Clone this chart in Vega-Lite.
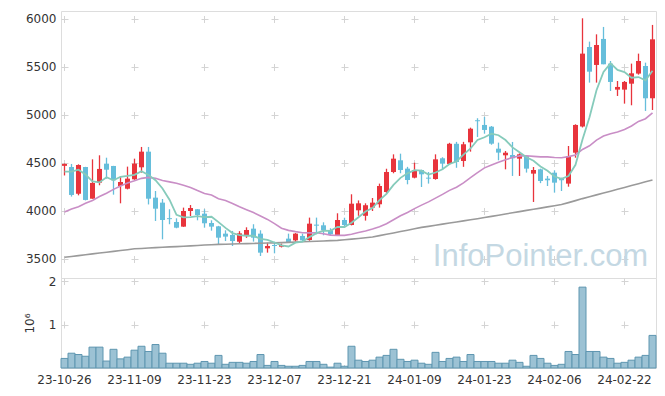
{
  "$schema": "https://vega.github.io/schema/vega-lite/v6.json",
  "background": "white",
  "padding": {"left": 22, "top": 10, "right": 9, "bottom": 4},
  "spacing": 0,
  "bounds": "flush",
  "config": {
    "view": {"stroke": "#dddddd"},
    "font": "DejaVu Sans",
    "axis": {"labelFont": "DejaVu Sans", "labelFontSize": 12, "labelColor": "#333333", "titleFont": "DejaVu Sans", "titleFontSize": 12, "titleFontWeight": "normal", "titleColor": "#333333", "gridColor": "#d4d4d4", "gridWidth": 1}
  },
  "data": {"values": [
    {"d":"23-10-26","o":4470,"h":4495,"l":4370,"c":4490,"v":220000,"m5":4410,"m20":3990,"m120":3518},
    {"d":"23-10-27","o":4458,"h":4490,"l":4150,"c":4167,"v":340000,"m5":4410,"m20":4020,"m120":3526},
    {"d":"23-10-30","o":4180,"h":4486,"l":4163,"c":4479,"v":310000,"m5":4430,"m20":4045,"m120":3535},
    {"d":"23-10-31","o":4458,"h":4460,"l":4110,"c":4115,"v":270000,"m5":4380,"m20":4080,"m120":3544},
    {"d":"23-11-01","o":4128,"h":4538,"l":4128,"c":4292,"v":480000,"m5":4309,"m20":4110,"m120":3553},
    {"d":"23-11-02","o":4295,"h":4580,"l":4268,"c":4438,"v":480000,"m5":4298,"m20":4150,"m120":3562},
    {"d":"23-11-03","o":4493,"h":4555,"l":4336,"c":4430,"v":160000,"m5":4351,"m20":4185,"m120":3570},
    {"d":"23-11-06","o":4469,"h":4470,"l":4170,"c":4320,"v":430000,"m5":4319,"m20":4225,"m120":3579},
    {"d":"23-11-07","o":4260,"h":4357,"l":4080,"c":4302,"v":210000,"m5":4356,"m20":4260,"m120":3588},
    {"d":"23-11-08","o":4232,"h":4462,"l":4225,"c":4337,"v":250000,"m5":4365,"m20":4292,"m120":3597},
    {"d":"23-11-09","o":4330,"h":4545,"l":4325,"c":4493,"v":410000,"m5":4376,"m20":4315,"m120":3606},
    {"d":"23-11-10","o":4455,"h":4667,"l":4399,"c":4618,"v":500000,"m5":4414,"m20":4340,"m120":3610},
    {"d":"23-11-13","o":4618,"h":4667,"l":4068,"c":4128,"v":380000,"m5":4376,"m20":4350,"m120":3614},
    {"d":"23-11-14","o":4139,"h":4208,"l":3896,"c":4024,"v":540000,"m5":4320,"m20":4340,"m120":3618},
    {"d":"23-11-15","o":4087,"h":4125,"l":3705,"c":3906,"v":340000,"m5":4234,"m20":4318,"m120":3622},
    {"d":"23-11-16","o":3925,"h":4018,"l":3862,"c":3915,"v":110000,"m5":4118,"m20":4303,"m120":3626},
    {"d":"23-11-17","o":3885,"h":3924,"l":3820,"c":3826,"v":110000,"m5":3960,"m20":4288,"m120":3629},
    {"d":"23-11-20","o":3837,"h":4035,"l":3835,"c":4000,"v":110000,"m5":3934,"m20":4268,"m120":3633},
    {"d":"23-11-21","o":4000,"h":4062,"l":3948,"c":4031,"v":85000,"m5":3936,"m20":4245,"m120":3637},
    {"d":"23-11-22","o":4018,"h":4020,"l":3903,"c":3958,"v":110000,"m5":3946,"m20":4213,"m120":3641},
    {"d":"23-11-23","o":3972,"h":4018,"l":3826,"c":3872,"v":150000,"m5":3937,"m20":4183,"m120":3645},
    {"d":"23-11-24","o":3875,"h":3903,"l":3795,"c":3837,"v":110000,"m5":3940,"m20":4166,"m120":3649},
    {"d":"23-11-27","o":3840,"h":3845,"l":3653,"c":3722,"v":290000,"m5":3884,"m20":4128,"m120":3652},
    {"d":"23-11-28","o":3764,"h":3799,"l":3687,"c":3733,"v":85000,"m5":3824,"m20":4109,"m120":3654},
    {"d":"23-11-29","o":3750,"h":3792,"l":3635,"c":3687,"v":130000,"m5":3770,"m20":4079,"m120":3656},
    {"d":"23-11-30","o":3680,"h":3790,"l":3660,"c":3767,"v":130000,"m5":3749,"m20":4045,"m120":3658},
    {"d":"23-12-01","o":3750,"h":3830,"l":3720,"c":3802,"v":110000,"m5":3742,"m20":4014,"m120":3660},
    {"d":"23-12-04","o":3816,"h":3862,"l":3681,"c":3722,"v":150000,"m5":3742,"m20":3984,"m120":3662},
    {"d":"23-12-05","o":3764,"h":3799,"l":3531,"c":3566,"v":310000,"m5":3709,"m20":3947,"m120":3664},
    {"d":"23-12-06","o":3611,"h":3670,"l":3566,"c":3635,"v":60000,"m5":3698,"m20":3912,"m120":3666},
    {"d":"23-12-07","o":3646,"h":3680,"l":3559,"c":3635,"v":150000,"m5":3672,"m20":3869,"m120":3668},
    {"d":"23-12-08","o":3628,"h":3660,"l":3620,"c":3646,"v":60000,"m5":3641,"m20":3821,"m120":3670},
    {"d":"23-12-11","o":3712,"h":3764,"l":3670,"c":3670,"v":40000,"m5":3630,"m20":3798,"m120":3673},
    {"d":"23-12-12","o":3694,"h":3770,"l":3680,"c":3764,"v":40000,"m5":3670,"m20":3785,"m120":3676},
    {"d":"23-12-13","o":3740,"h":3764,"l":3680,"c":3694,"v":60000,"m5":3682,"m20":3774,"m120":3679},
    {"d":"23-12-14","o":3698,"h":3931,"l":3690,"c":3868,"v":150000,"m5":3728,"m20":3772,"m120":3682},
    {"d":"23-12-15","o":3858,"h":3931,"l":3757,"c":3847,"v":150000,"m5":3769,"m20":3773,"m120":3685},
    {"d":"23-12-18","o":3851,"h":3882,"l":3747,"c":3799,"v":85000,"m5":3794,"m20":3763,"m120":3688},
    {"d":"23-12-19","o":3799,"h":3820,"l":3740,"c":3757,"v":20000,"m5":3793,"m20":3749,"m120":3691},
    {"d":"23-12-20","o":3747,"h":3976,"l":3740,"c":3906,"v":110000,"m5":3835,"m20":3746,"m120":3694},
    {"d":"23-12-21","o":3906,"h":3930,"l":3840,"c":3854,"v":40000,"m5":3833,"m20":3746,"m120":3700},
    {"d":"23-12-22","o":3854,"h":4174,"l":3850,"c":4076,"v":500000,"m5":3878,"m20":3758,"m120":3707},
    {"d":"23-12-26","o":4007,"h":4110,"l":3950,"c":4080,"v":180000,"m5":3935,"m20":3775,"m120":3714},
    {"d":"23-12-27","o":3950,"h":4080,"l":3900,"c":4060,"v":150000,"m5":3995,"m20":3792,"m120":3721},
    {"d":"23-12-28","o":4035,"h":4135,"l":4000,"c":4087,"v":180000,"m5":4031,"m20":3812,"m120":3729},
    {"d":"24-01-02","o":4070,"h":4285,"l":4035,"c":4260,"v":250000,"m5":4113,"m20":3836,"m120":3743},
    {"d":"24-01-03","o":4198,"h":4440,"l":4180,"c":4406,"v":290000,"m5":4179,"m20":3867,"m120":3757},
    {"d":"24-01-04","o":4406,"h":4590,"l":4393,"c":4545,"v":430000,"m5":4272,"m20":3908,"m120":3771},
    {"d":"24-01-05","o":4528,"h":4597,"l":4393,"c":4427,"v":200000,"m5":4345,"m20":3951,"m120":3786},
    {"d":"24-01-08","o":4441,"h":4460,"l":4278,"c":4323,"v":150000,"m5":4392,"m20":3985,"m120":3800},
    {"d":"24-01-09","o":4347,"h":4503,"l":4340,"c":4424,"v":180000,"m5":4425,"m20":4025,"m120":3815},
    {"d":"24-01-10","o":4427,"h":4430,"l":4250,"c":4382,"v":110000,"m5":4420,"m20":4061,"m120":3829},
    {"d":"24-01-11","o":4347,"h":4406,"l":4285,"c":4337,"v":85000,"m5":4379,"m20":4095,"m120":3840},
    {"d":"24-01-12","o":4333,"h":4590,"l":4326,"c":4538,"v":360000,"m5":4401,"m20":4134,"m120":3851},
    {"d":"24-01-15","o":4549,"h":4560,"l":4430,"c":4493,"v":150000,"m5":4435,"m20":4173,"m120":3863},
    {"d":"24-01-16","o":4490,"h":4710,"l":4480,"c":4700,"v":220000,"m5":4490,"m20":4215,"m120":3874},
    {"d":"24-01-17","o":4700,"h":4720,"l":4450,"c":4510,"v":250000,"m5":4516,"m20":4248,"m120":3886},
    {"d":"24-01-18","o":4521,"h":4720,"l":4460,"c":4695,"v":150000,"m5":4587,"m20":4293,"m120":3897},
    {"d":"24-01-19","o":4715,"h":4868,"l":4618,"c":4857,"v":310000,"m5":4651,"m20":4348,"m120":3908},
    {"d":"24-01-22","o":4945,"h":4966,"l":4771,"c":4935,"v":150000,"m5":4739,"m20":4399,"m120":3920},
    {"d":"24-01-23","o":4896,"h":4980,"l":4805,"c":4844,"v":150000,"m5":4768,"m20":4449,"m120":3932},
    {"d":"24-01-24","o":4878,"h":4885,"l":4690,"c":4701,"v":150000,"m5":4806,"m20":4480,"m120":3944},
    {"d":"24-01-25","o":4649,"h":4712,"l":4528,"c":4608,"v":110000,"m5":4789,"m20":4507,"m120":3956},
    {"d":"24-01-26","o":4580,"h":4625,"l":4434,"c":4607,"v":110000,"m5":4739,"m20":4534,"m120":3969},
    {"d":"24-01-29","o":4583,"h":4719,"l":4365,"c":4549,"v":180000,"m5":4662,"m20":4557,"m120":3981},
    {"d":"24-01-30","o":4545,"h":4600,"l":4365,"c":4590,"v":130000,"m5":4611,"m20":4574,"m120":3993},
    {"d":"24-01-31","o":4573,"h":4580,"l":4400,"c":4441,"v":40000,"m5":4559,"m20":4575,"m120":4006},
    {"d":"24-02-01","o":4389,"h":4458,"l":4094,"c":4427,"v":290000,"m5":4523,"m20":4569,"m120":4018},
    {"d":"24-02-02","o":4434,"h":4441,"l":4290,"c":4312,"v":220000,"m5":4464,"m20":4564,"m120":4030},
    {"d":"24-02-05","o":4337,"h":4365,"l":4260,"c":4320,"v":110000,"m5":4418,"m20":4564,"m120":4043},
    {"d":"24-02-06","o":4399,"h":4424,"l":4191,"c":4295,"v":60000,"m5":4359,"m20":4557,"m120":4055},
    {"d":"24-02-07","o":4337,"h":4347,"l":4208,"c":4320,"v":85000,"m5":4335,"m20":4554,"m120":4067},
    {"d":"24-02-08","o":4285,"h":4677,"l":4253,"c":4573,"v":380000,"m5":4364,"m20":4566,"m120":4087},
    {"d":"24-02-13","o":4607,"h":4903,"l":4555,"c":4896,"v":310000,"m5":4481,"m20":4584,"m120":4108},
    {"d":"24-02-14","o":4880,"h":6007,"l":4870,"c":5639,"v":1860000,"m5":4745,"m20":4641,"m120":4129},
    {"d":"24-02-15","o":5708,"h":5764,"l":5337,"c":5451,"v":380000,"m5":4976,"m20":4679,"m120":4148},
    {"d":"24-02-16","o":5521,"h":5840,"l":5337,"c":5729,"v":380000,"m5":5258,"m20":4739,"m120":4168},
    {"d":"24-02-19","o":5792,"h":5917,"l":5528,"c":5528,"v":250000,"m5":5449,"m20":4781,"m120":4187},
    {"d":"24-02-20","o":5535,"h":5562,"l":5250,"c":5344,"v":220000,"m5":5538,"m20":4805,"m120":4206},
    {"d":"24-02-21","o":5264,"h":5354,"l":5198,"c":5292,"v":110000,"m5":5469,"m20":4823,"m120":4226},
    {"d":"24-02-22","o":5264,"h":5354,"l":5118,"c":5344,"v":130000,"m5":5447,"m20":4848,"m120":4245},
    {"d":"24-02-23","o":5326,"h":5535,"l":5101,"c":5434,"v":180000,"m5":5388,"m20":4885,"m120":4265},
    {"d":"24-02-26","o":5431,"h":5639,"l":5420,"c":5562,"v":250000,"m5":5395,"m20":4933,"m120":4284},
    {"d":"24-02-27","o":5510,"h":5545,"l":5042,"c":5174,"v":290000,"m5":5361,"m20":4961,"m120":4304},
    {"d":"24-02-28","o":5174,"h":5938,"l":5052,"c":5788,"v":750000,"m5":5460,"m20":5023,"m120":4323}
  ]},
  "vconcat": [
    {
      "width": 595,
      "height": 267,
      "encoding": {
        "x": {"field": "d", "type": "ordinal", "sort": "ascending",
              "scale": {"type": "band", "paddingInner": 0, "paddingOuter": 0},
              "axis": {"title": null, "labels": false, "ticks": false, "domain": false, "minExtent": 0, "maxExtent": 0, "grid": true, "gridDash": [7, 41], "gridDashOffset": 43.5,
                       "values": ["23-10-26","23-11-09","23-11-23","23-12-07","23-12-21","24-01-09","24-01-23","24-02-06","24-02-22"]}}
      },
      "layer": [
        {
          "mark": {"type": "rule", "strokeWidth": 1.3},
          "encoding": {
            "y": {"field": "l", "type": "quantitative",
                  "scale": {"domain": [3302, 6083], "nice": false, "zero": false},
                  "axis": {"title": null, "format": "d", "values": [3500, 4000, 4500, 5000, 5500, 6000], "ticks": false, "domain": false, "labelPadding": 5, "grid": true, "gridDash": [7, 63], "gridDashOffset": 0}},
            "y2": {"field": "h"},
            "color": {"condition": {"test": "datum.c > datum.o", "value": "#e8343c"}, "value": "#66bedb"}
          }
        },
        {
          "mark": {"type": "bar", "width": {"band": 0.72}},
          "encoding": {
            "y": {"field": "o", "type": "quantitative"},
            "y2": {"field": "c"},
            "color": {"condition": {"test": "datum.c > datum.o", "value": "#e8343c"}, "value": "#66bedb"}
          }
        },
        {
          "mark": {"type": "line", "color": "#9a9a9a", "strokeWidth": 1.6},
          "encoding": {"y": {"field": "m120", "type": "quantitative"}}
        },
        {
          "mark": {"type": "line", "color": "#c98ec6", "strokeWidth": 1.6},
          "encoding": {"y": {"field": "m20", "type": "quantitative"}}
        },
        {
          "mark": {"type": "line", "color": "#86cbbb", "strokeWidth": 1.8},
          "encoding": {"y": {"field": "m5", "type": "quantitative"}}
        },
        {
          "transform": [{"filter": "datum.d == '24-02-02'"}],
          "mark": {"type": "text", "font": "Liberation Sans", "fontSize": 31, "color": "#c4d8e3", "align": "center", "baseline": "alphabetic"},
          "encoding": {
            "y": {"datum": 3427, "type": "quantitative"},
            "text": {"value": "InfoPointer.com"}
          }
        }
      ]
    },
    {
      "width": 595,
      "height": 90,
      "mark": {"type": "bar", "fill": "#9cc2d4", "stroke": "#5e96b0", "strokeWidth": 1},
      "encoding": {
        "x": {"field": "d", "type": "ordinal", "sort": "ascending",
              "scale": {"type": "band", "paddingInner": 0, "paddingOuter": 0},
              "axis": {"title": null, "ticks": false, "domain": false, "labelAngle": 0, "labelPadding": 6, "grid": true, "gridDash": [7, 36.5], "gridDashOffset": 0.5,
                       "values": ["23-10-26","23-11-09","23-11-23","23-12-07","23-12-21","24-01-09","24-01-23","24-02-06","24-02-22"]}},
        "y": {"field": "v", "type": "quantitative",
              "scale": {"domain": [0, 2070000], "nice": false},
              "axis": {"title": "10⁶", "values": [1000000, 2000000], "labelExpr": "datum.value / 1000000", "ticks": false, "domain": false, "labelPadding": 5, "titlePadding": 12, "grid": true, "gridDash": [7, 63], "gridDashOffset": 0}}
      }
    }
  ]
}
